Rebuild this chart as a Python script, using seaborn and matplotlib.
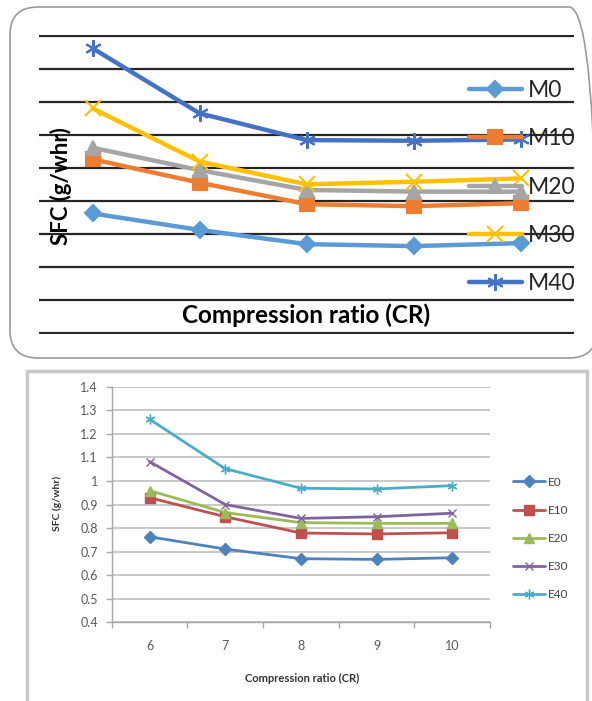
import numpy as np
import pandas as pd
import seaborn as sns
import matplotlib.pyplot as plt
from matplotlib.patches import FancyBboxPatch, Rectangle
from matplotlib.transforms import IdentityTransform

# compression ratio categories (shared by both charts)
cr = ['6', '7', '8', '9', '10']

# top chart: SFC for M blends
m_names = ['M0', 'M10', 'M20', 'M30', 'M40']
m0 = [0.762, 0.712, 0.669, 0.663, 0.672]
m10 = [0.926, 0.855, 0.790, 0.784, 0.793]
m20 = [0.961, 0.893, 0.833, 0.828, 0.828]
m30 = [1.080, 0.919, 0.850, 0.858, 0.868]
m40 = [1.262, 1.065, 0.984, 0.982, 0.986]

# bottom chart: SFC for E blends
e_names = ['E0', 'E10', 'E20', 'E30', 'E40']
e0 = [0.763, 0.711, 0.670, 0.667, 0.674]
e10 = [0.929, 0.848, 0.779, 0.775, 0.780]
e20 = [0.959, 0.866, 0.823, 0.820, 0.820]
e30 = [1.082, 0.900, 0.841, 0.848, 0.863]
e40 = [1.262, 1.052, 0.969, 0.966, 0.980]

top_grid = [0.4, 0.5, 0.6, 0.7, 0.8, 0.9, 1.0, 1.1, 1.2, 1.3]
bot_ticks = [0.4, 0.5, 0.6, 0.7, 0.8, 0.9, 1.0, 1.1, 1.2, 1.3, 1.4]
bot_tick_labels = ['0.4', '0.5', '0.6', '0.7', '0.8', '0.9', '1', '1.1', '1.2', '1.3', '1.4']

sns.set_theme(style='white')
plt.rcParams['font.family'] = ['Lato', 'DejaVu Sans']

W, H = 592, 701
fig = plt.figure(figsize=(W / 100, H / 100), dpi=100)


def box(left, top, right, bottom):
    # pixel box (from top-left) -> figure fraction rect
    return [left / W, 1 - bottom / H, (right - left) / W, (bottom - top) / H]


# frames around the two panels
fig.add_artist(FancyBboxPatch((10, H - 358), 587, 351,
                              boxstyle='round,pad=0,rounding_size=28',
                              transform=IdentityTransform(), fill=False,
                              ec='#9a9a9a', lw=1.2))
fig.add_artist(Rectangle((27, -10), 560, H - 371 + 10, transform=IdentityTransform(),
                         fill=False, ec='#c9c9c9', lw=2.5))

# ---- top chart ----
ax1 = fig.add_axes(box(39, 34.7, 574.3, 334))
top_series = [m0, m10, m20, m30, m40]
top_colors = ['#5B9BD5', '#ED7D31', '#A5A5A5', '#FFC000', '#4472C4']
top_markers = ['D', 's', '^', 'x', (6, 2, 0)]
top_msize = [8, 10, 10, 11, 12]
for name, vals, c, mk, ms in zip(m_names, top_series, top_colors, top_markers, top_msize):
    sns.lineplot(x=cr, y=vals, ax=ax1, sort=False, color=c, lw=3.2, marker=mk,
                 markersize=ms, markeredgecolor=c, markerfacecolor=c,
                 markeredgewidth=1.5, label=name)
ax1.set_xlim(-0.5, 4.5)
ax1.set_ylim(0.397, 1.303)
ax1.set_yticks(top_grid)
ax1.yaxis.grid(True, color='#262626', lw=1.6)
ax1.xaxis.grid(False)
ax1.tick_params(left=False, bottom=False, labelleft=False, labelbottom=False)
ax1.set_xlabel('')
ax1.set_ylabel('')
for s in ax1.spines.values():
    s.set_visible(False)
ax1.set_facecolor('none')
ax1.legend(loc='upper left', bbox_to_anchor=(469 / W, 1 - 80 / H),
           bbox_transform=fig.transFigure, frameon=False, fontsize=16.5,
           handlelength=2.3, handletextpad=0.25, labelspacing=1.19,
           borderpad=0, borderaxespad=0)
fig.text(306 / W, 1 - 315 / H, 'Compression ratio (CR)', ha='center', va='center',
         fontsize=17.5, fontweight='bold', color='black')
fig.text(61 / W, 1 - 186 / H, 'SFC (g/whr)', ha='center', va='center', rotation=90,
         fontsize=16, fontweight='bold', color='black')

# ---- bottom chart ----
ax2 = fig.add_axes(box(111.7, 386.7, 490, 622.3))
bot_series = [e0, e10, e20, e30, e40]
bot_colors = ['#4F81BD', '#C0504D', '#9BBB59', '#8064A2', '#4BACC6']
bot_markers = ['D', 's', '^', 'x', (6, 2, 0)]
bot_msize = [6, 7, 7, 6, 7]
for name, vals, c, mk, ms in zip(e_names, bot_series, bot_colors, bot_markers, bot_msize):
    sns.lineplot(x=cr, y=vals, ax=ax2, sort=False, color=c, lw=2, marker=mk,
                 markersize=ms, markeredgecolor=c, markerfacecolor=c,
                 markeredgewidth=1, label=name)
ax2.set_xlim(-0.5, 4.5)
ax2.set_ylim(0.4, 1.4)
ax2.set_yticks(bot_ticks)
ax2.set_yticklabels(bot_tick_labels)
ax2.set_xticks(range(len(cr)))
ax2.set_xticklabels(cr)
ax2.set_xticks(np.arange(-0.5, len(cr), 1.0), minor=True)
ax2.yaxis.grid(True, color='#c4c4c4', lw=1.3)
ax2.xaxis.grid(False)
for side in ['top', 'right']:
    ax2.spines[side].set_visible(False)
for side in ['left', 'bottom']:
    ax2.spines[side].set_color('#a6a6a6')
    ax2.spines[side].set_linewidth(1)
ax2.tick_params(axis='y', left=True, length=4, width=1, color='#a6a6a6',
                labelsize=9, labelcolor='#595959', pad=6)
ax2.tick_params(axis='x', which='major', bottom=True, length=0, labelsize=9,
                labelcolor='#595959', pad=13)
ax2.tick_params(axis='x', which='minor', bottom=True, length=4, width=1, color='#a6a6a6')
ax2.set_xlabel('')
ax2.set_ylabel('')
leg = ax2.legend(loc='upper left', bbox_to_anchor=(513 / W, 1 - 476.5 / H),
                 bbox_transform=fig.transFigure, frameon=False, fontsize=8.5,
                 handlelength=2.7, handletextpad=0.25, labelspacing=1.46,
                 borderpad=0, borderaxespad=0)
for t in leg.get_texts():
    t.set_color('#404040')
fig.text(302 / W, 1 - 678 / H, 'Compression ratio (CR)', ha='center', va='center',
         fontsize=8, fontweight='bold', color='#333333')
fig.text(57 / W, 1 - 503 / H, 'SFC (g/whr)', ha='center', va='center', rotation=90,
         fontsize=7.5, fontweight='bold', color='#333333')

fig.savefig('out.png', dpi=100)
